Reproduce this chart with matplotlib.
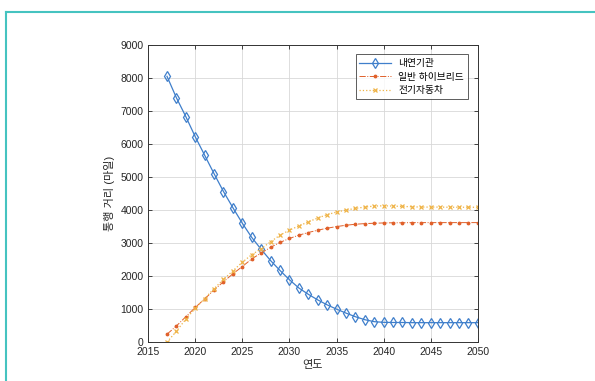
import numpy as np
import matplotlib
matplotlib.use("Agg")
import matplotlib.pyplot as plt
from matplotlib.lines import Line2D

plt.rcParams['font.family'] = ['Liberation Sans', 'Noto Sans CJK KR']

years = np.arange(2017, 2051)

# 내연기관
ice = [8050, 7400, 6830, 6220, 5660, 5100, 4560, 4070, 3600, 3170,
       2810, 2470, 2170, 1890, 1640, 1450, 1280, 1130, 1000, 880,
       770, 680, 620, 600, 595, 595, 590, 590, 590, 590,
       590, 590, 590, 590]
# 일반 하이브리드
hybrid = [240, 490, 770, 1050, 1310, 1580, 1830, 2070, 2290, 2520,
          2700, 2870, 3020, 3140, 3240, 3320, 3390, 3450, 3500, 3540,
          3570, 3590, 3600, 3610, 3615, 3615, 3620, 3620, 3620, 3620,
          3620, 3620, 3620, 3620]
# 전기자동차
ev = [0, 330, 700, 1020, 1320, 1620, 1900, 2160, 2420, 2650,
      2830, 3040, 3240, 3390, 3520, 3640, 3760, 3860, 3940, 4000,
      4050, 4090, 4120, 4130, 4120, 4110, 4100, 4090, 4090, 4090,
      4085, 4085, 4085, 4085]

labels = ['내연기관', '일반 하이브리드', '전기자동차']

fig = plt.figure(figsize=(5.95, 3.81), dpi=100)
ax = fig.add_axes([0.249, 0.102, 0.554, 0.780])

ax.plot(years, ice, '-', color='#3f7fcb', lw=0.9, marker='d', ms=5.5,
        mfc='none', mec='#3f7fcb', mew=0.9, label=labels[0])
ax.plot(years, hybrid, '-.', color='#e0602a', lw=0.7, marker='.', ms=3.5,
        label=labels[1])
ax.plot(years, ev, ':', color='#efb346', lw=0.9, marker='x', ms=3.5,
        mew=0.9, label=labels[2])

ax.set_xlim(2015, 2050)
ax.set_ylim(0, 9000)
ax.set_xticks(np.arange(2015, 2051, 5))
ax.set_yticks(np.arange(0, 9001, 1000))
ax.grid(True, color='#d8d8d8', lw=0.6)
ax.set_axisbelow(True)
ax.tick_params(direction='in', length=3, width=0.6, labelsize=7.5,
               colors='#262626', top=True, right=True)
for s in ax.spines.values():
    s.set_color('#333333')
    s.set_linewidth(0.7)

ax.set_xlabel('연도', fontsize=8, color='#262626', labelpad=2)
ax.set_ylabel('통행 거리 (마일)', fontsize=8, color='#262626', labelpad=4)

leg = ax.legend(loc='upper right', fontsize=7, frameon=True, fancybox=False,
                edgecolor='#333333', handlelength=3.2, borderpad=0.4,
                labelspacing=0.35, bbox_to_anchor=(0.985, 0.985))
leg.get_frame().set_linewidth(0.7)

# 테두리 장식선
teal = '#45c3c0'
fig.add_artist(Line2D([6 / 595, 1.0], [1 - 12 / 381, 1 - 12 / 381],
                      transform=fig.transFigure, color=teal, lw=1.5))
fig.add_artist(Line2D([6 / 595, 6 / 595], [0, 1 - 12 / 381],
                      transform=fig.transFigure, color=teal, lw=1.5))

fig.savefig('out.png', dpi=100)
